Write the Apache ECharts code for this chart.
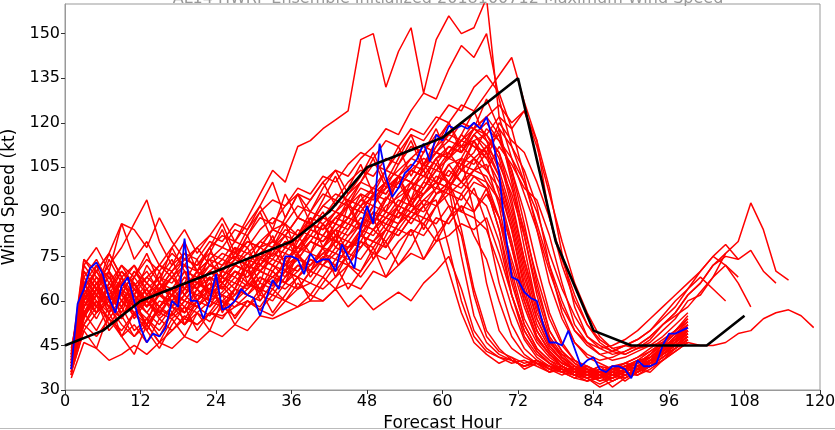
<!DOCTYPE html>
<html><head><meta charset="utf-8">
<script src="https://cdn.jsdelivr.net/npm/echarts@6/dist/echarts.min.js"></script>
<style>html,body{margin:0;padding:0;background:#fff}#c{width:835px;height:430px}</style>
</head><body><div id="c"></div>
<script>
const titleText = "AL14 HWRF Ensemble Initialized 2018100712 Maximum Wind Speed";
const xTicks = [0,12,24,36,48,60,72,84,96,108,120];
const yTicks = [30,45,60,75,90,105,120,135,150];

// ensemble hours (2-hourly)
const redHours = [1,3,5,7,9,11,13,15,17,19,21,23,25,27,29,31,33,35,37,39,41,43,45,47,49,51,53,55,57,59,61,63,65,67,69,71,73,75,77,79,81,83,85,87,89,91,93,95,97,99,101,103,105,107,109,111,113,115,117,119];

const c1 = [38,55,62,52,58,50,54,48,56,52, 56,53,58,55,60,57,55,60,58,62, 60,64,58,62,57,60,63,60,66,70, 75,64,50,44,41,40,38,40,37,38, 36,38,35,37,36,38,40,42,45,48];
const c2 = [40,62,58,64,55,60,52,57,55,60, 58,62,65,60,66,63,70,66,72,70, 75,72,78,80,76,84,82,88,92,94, 78,60,48,43,41,39,40,38,36,37, 35,36,34,36,38,37,40,43,46,50];
const c3 = [36,50,56,60,48,52,46,54,50,55, 52,56,54,60,58,62,60,66,64,70, 68,74,72,78,84,80,86,90,88,96, 98,75,55,46,42,40,38,39,37,36, 38,35,36,34,36,38,39,42,44,47];
const c4 = [42,58,66,60,63,58,60,55,62,58, 64,60,63,68,65,70,68,72,75,72, 78,82,80,86,84,90,88,94,96,100, 92,82,62,48,43,41,39,40,38,37, 36,37,35,37,38,40,41,44,46,49];
const c5 = [39,60,54,62,58,64,60,66,62,68, 64,70,66,72,70,75,72,78,76,82, 80,86,84,90,88,95,92,98,102,100, 106,108,90,66,50,44,41,39,38,36, 37,35,36,37,38,39,42,45,47,50];
const b1 = [37,65,70,62,66,60,64,58,62,66, 60,68,64,70,66,72,70,76,74,80, 78,84,82,88,86,92,95,98,96,102, 100,106,104,110,96,80,62,50,43,39, 37,37,35,34,36,38,40,43,47,50];
const b2 = [35,72,66,70,64,68,62,66,64,70, 68,72,70,74,72,78,75,80,78,84, 82,88,86,92,95,98,102,100,106,110, 108,112,114,116,110,94,74,58,47,41, 38,36,38,35,37,36,39,42,46,49];
const b3 = [41,55,60,50,55,48,52,46,50,54, 52,56,55,58,60,57,62,60,64,66, 64,68,72,70,76,74,80,84,82,88, 86,92,90,96,88,74,60,48,42,38, 36,34,35,33,35,37,38,41,44,47];
const b4 = [38,68,74,66,72,65,70,63,68,64, 70,67,72,75,72,78,80,78,84,82, 88,86,92,90,96,94,100,104,102,108, 112,110,116,112,106,96,82,64,50,43, 39,37,36,38,37,39,41,44,48,52];
const b5 = [40,52,58,54,50,56,52,58,55,60, 58,62,60,64,62,68,65,70,68,74, 72,78,76,82,80,86,84,90,94,92, 98,96,102,100,94,78,62,50,43,39, 37,36,34,35,36,38,40,42,45,48];
const b6 = [36,62,56,66,60,55,62,58,64,60, 66,63,68,66,72,70,74,72,78,76, 82,80,86,84,90,88,94,92,98,104, 102,108,106,112,116,104,86,66,50,43, 39,36,37,35,34,36,39,42,45,49];
const b7 = [43,58,64,70,62,58,54,60,58,56, 62,60,58,64,62,66,64,70,68,72, 76,74,80,78,84,88,86,92,90,96, 100,98,104,106,92,70,54,46,41,38, 35,36,34,36,35,37,40,44,47,51];
const b8 = [39,74,68,64,70,66,60,64,68,62, 66,70,68,72,76,74,78,82,80,86, 84,90,88,94,98,96,102,106,104,110, 114,112,118,114,110,98,84,68,54,45, 40,37,35,36,38,37,40,43,47,52];
const b9 = [34,46,44,40,42,45,42,46,44,48, 46,50,48,52,50,55,54,56,58,60, 60,64,66,64,70,68,72,76,74,80, 82,86,84,88,76,62,50,43,39,36, 35,34,31,33,35,37,39,42,45,48];
const b10 = [38,60,66,58,54,62,56,52,58,54, 60,58,62,60,64,68,66,70,74,72, 76,80,78,84,82,88,92,90,96,100, 98,104,108,112,102,86,68,54,45,40, 37,35,36,34,36,38,41,44,48,51];
const b11 = [41,66,60,56,64,60,66,62,58,64, 62,66,64,70,68,72,76,74,78,82, 80,84,88,86,92,90,96,100,98,104, 108,106,110,118,114,104,90,72,56,46, 40,37,36,37,35,37,40,42,46,50];
const b12 = [37,54,62,58,64,54,60,56,54,58, 56,60,58,62,66,64,68,66,70,74, 72,76,74,80,78,84,82,88,86,92, 96,94,100,98,88,72,58,47,42,38, 36,35,36,33,35,36,38,41,44,48];
const b13 = [40,60,66,72,78,86,94,80,72,76, 70,74,72,78,76,80,78,84,82,88, 86,90,94,92,98,96,102,100,106,104, 110,114,112,108,100,84,66,52,44,40, 37,36,35,37,36,38,41,44,48,52];
const b14 = [42,64,70,76,86,84,78,88,80,74, 78,72,76,74,80,78,84,86,82,90, 88,94,92,98,96,100,104,108,106,112, 116,120,118,122,116,102,82,62,48,42, 38,37,36,35,37,38,40,43,47,51];
const b15 = [35,70,64,58,62,56,60,54,58,62, 58,64,62,66,64,70,68,72,70,76, 74,80,78,82,88,86,92,90,96,100, 98,104,102,98,84,66,52,44,40,37, 35,34,36,35,37,39,42,46,50,54];
const b16 = [39,56,50,58,52,48,54,50,56,52, 58,55,60,58,62,60,66,64,68,66, 72,70,76,74,80,78,84,82,88,86, 92,90,88,84,72,58,47,41,38,36, 34,33,35,31,34,36,38,42,45,48];
const b17 = [44,66,72,68,62,70,64,68,66,72, 70,74,78,76,80,78,84,82,88,86, 92,90,96,100,98,104,102,108,112,110, 116,114,120,116,108,92,74,58,47,41, 37,38,36,38,39,41,44,47,50,54];
const b18 = [37,52,48,54,60,56,50,58,62,56, 60,64,58,62,66,64,62,68,72,70, 74,72,78,82,80,84,90,88,94,98, 96,100,104,102,94,78,60,48,42,39, 37,35,33,34,35,37,39,43,46,50];
const b19 = [42,74,70,76,68,72,66,62,68,72, 66,70,74,72,70,76,80,78,82,86, 84,88,92,96,94,100,98,104,102,108, 110,116,112,110,102,88,70,54,45,40, 36,35,37,36,38,40,43,46,49,53];
const b20 = [36,58,64,56,60,66,58,62,60,64, 68,62,66,70,68,74,72,70,76,80, 78,76,82,86,84,90,88,94,100,98, 104,100,96,92,80,62,50,43,39,37, 35,33,34,36,35,37,39,42,46,49];
const e1 = [35,66,58,70,54,62,50,58,64,52, 60,68,56,64,72,60,66,74,64,70, 78,68,76,84,74,82,90,86,92,84, 70,56,46,42,39,41,37,39,36,38, 35,37,34,36,33,36,38,41,44,47];
const e2 = [42,60,72,62,56,66,60,70,58,66, 74,62,70,78,66,74,82,72,80,88, 78,86,94,84,92,100,90,98,104,96, 100,84,64,50,44,40,38,40,37,35, 37,34,36,35,37,40,39,43,48,51];
const e3 = [38,54,64,56,68,58,52,64,56,62, 70,60,68,64,74,66,78,70,82,76, 86,80,92,84,96,90,102,94,106,100, 110,104,114,108,118,112,104,92,72,56, 46,41,39,37,39,41,43,46,50,53];
const e4 = [36,50,44,56,48,42,52,46,54,48, 56,50,60,52,58,64,56,62,68,60, 66,72,64,70,78,68,76,84,74,82, 88,92,82,74,60,48,42,39,36,38, 35,33,35,34,36,35,38,40,43,46];
const e5 = [41,70,64,76,68,62,72,66,78,70, 64,76,84,74,82,90,80,88,96,86, 94,102,92,100,108,98,106,114,104,112, 120,110,118,128,118,100,78,58,46,41, 38,36,38,37,39,38,41,45,49,52];
const e6 = [39,64,56,60,68,58,64,56,62,70, 60,66,58,64,72,62,70,66,76,68, 74,82,72,80,88,78,86,94,84,92, 100,90,98,86,66,52,44,40,38,36, 34,36,33,35,34,37,36,40,44,47];
const e7 = [40,72,78,70,86,74,80,72,78,84, 76,82,88,80,86,92,84,96,88,94, 100,92,98,106,96,104,112,102,110,118, 108,116,124,114,104,90,72,56,46,42, 40,38,36,38,37,39,42,46,50,55];
const e8 = [37,58,66,60,54,64,58,66,60,56, 64,58,66,62,70,64,72,68,76,70, 78,84,76,82,90,84,92,100,92,98, 106,100,108,104,112,106,98,94,82,66, 52,46,42,40,41,43,45,48,52,56];
const e9 = [38,52,60,54,48,56,50,44,52,58, 50,56,62,54,60,58,64,60,66,62, 68,64,72,68,74,80,72,78,86,80, 88,96,90,98,84,62,48,42,39,37, 36,34,32,34,36,35,37,40,43,46];
const e10 = [43,68,62,74,66,72,62,68,74,64, 70,78,68,74,82,72,78,86,76,84, 90,82,88,96,86,94,102,92,100,108, 98,106,114,104,98,84,64,50,43,39, 37,36,35,37,36,38,40,44,47,50];
const e11 = [37,62,70,64,58,68,76,66,72,80, 70,78,86,76,84,92,100,88,96,90, 98,104,96,102,110,100,108,116,106,114, 120,112,108,100,88,68,52,44,40,38, 36,35,34,36,35,37,40,43,46,50];
const e12 = [39,56,62,68,60,66,58,64,70,62, 68,74,66,72,78,70,76,82,74,80, 86,78,84,92,86,94,100,92,98,106, 100,108,116,110,120,114,110,100,88,72, 60,52,47,44,45,47,50,54,58,64, 70,75,72,68];
const a1 = [39,62,68,64,72,68,74,70,76,72, 78,82,80,86,84,90,94,92,98,96, 102,100,106,110,108,114,112,118,116,122, 120,126,124,130,136,142,127,114,88,74, 62,52,46,43,45,44,47,52,55,58, 63,68,72,66,58];
const a2 = [41,58,64,60,66,62,68,64,70,74, 72,76,74,80,78,84,88,86,92,90, 96,94,100,104,102,108,106,112,110,116, 114,120,118,122,126,120,124,112,96,80, 66,56,48,44,42,44,46,50,54,60, 62,68,76,80,93,84,70,67];
const a3 = [38,56,62,58,64,60,56,62,60,66, 64,68,66,72,70,76,74,80,78,84, 82,88,92,90,96,100,98,104,108,106, 112,110,116,120,114,108,100,90,76,64, 55,48,45,43,42,44,45,46,45,46, 45,45,46,49,50,54,56,57,55,51];
const a4 = [36,60,56,62,58,64,60,56,62,60, 66,64,70,68,74,72,78,76,82,86, 84,90,88,94,92,98,102,100,106,110, 108,114,118,116,122,118,124,114,98,76, 58,48,44,42,43,45,48,52,56,62, 66,72,75,74,77,70,66];
const h1 = [40,64,58,66,62,70,66,72,68,74, 72,78,82,80,88,96,104,100,112,114, 118,121,124,148,150,132,144,152,130,148, 156,150,152,162,122,108,96,84,70,58, 50,46,44,45,47,50,54,58,62,66, 70,75,79,74];
const h2 = [42,60,68,62,70,64,68,72,70,76, 74,80,78,84,82,88,86,92,96,94, 100,104,102,108,112,118,116,124,130,128, 138,146,142,150,128,112,100,86,72,60, 50,45,42,43,45,47,50,55,60,64, 68,64,60];
const h3 = [37,56,64,60,66,62,58,64,62,68, 66,72,70,76,74,80,84,82,88,86, 92,96,94,100,106,104,110,116,114,120, 126,124,132,136,130,118,102,84,66,54, 46,42,40,41,43,45,48,52,56,62, 66,72,76];

const ensemble = [c1,c2,c3,c4,c5,b1,b2,b3,b4,b5,b6,b7,b8,b9,b10,b11,b12,b13,b14,b15,b16,b17,b18,b19,b20,
  e1,e2,e3,e4,e5,e6,e7,e8,e9,e10,e11,e12,a1,a2,a3,a4,h1,h2,h3];

// control member (hourly)
const blueHours = [1,2,3,4,5,6,7,8,9,10,11,12,13,14,15,16,17,18,19,20,21,22,23,24,25,26,27,28,29,30,31,32,33,34,35,36,37,38,39,40,41,42,43,44,45,46,47,48,49,50,51,52,53,54,55,56,57,58,59,60,61,62,63,64,65,66,67,68,69,70,71,72,73,74,75,76,77,78,79,80,81,82,83,84,85,86,87,88,89,90,91,92,93,94,95,96,97,98,99];
const blueWind = [37,59,64,71,73,69,61,56,65,68, 60,51,46,49,48,51,60,58,81,60, 60,54,60,69,57,58,60,64,62,61, 55,61,67,64,75,75,74,69,76,73, 74,74,70,79,75,71,85,92,86,113, 102,95,98,103,105,108,113,107,116,114, 119,118,119,118,120,118,122,114,103,83, 68,67,63,61,60,52,46,46,45,50, 44,38,40,41,37,36,38,38,37,34, 40,38,38,39,45,49,49,50,51];

// best track
const bestHours = [0,6,12,18,24,30,36,42,48,54,60,66,72,78,84,90,96,102,108];
const bestWind = [45,50,60,65,70,75,80,90,105,110,115,125,135,80,50,45,45,45,55];

function pairs(hrs, vals){ return vals.map((v,i)=>[hrs[i], v]); }

const series = [];
ensemble.forEach(m => series.push({
  type:'line', data: pairs(redHours, m), symbol:'none', silent:true, z:2,
  lineStyle:{color:'#ff0000', width:1.5}
}));
series.push({type:'line', data: pairs(blueHours, blueWind), symbol:'none', silent:true, z:3,
  lineStyle:{color:'#0000ff', width:1.8}});
series.push({type:'line', data: pairs(bestHours, bestWind), symbol:'none', silent:true, z:4,
  lineStyle:{color:'#000000', width:2.6}});

const font = 'DejaVu Sans';
const chart = echarts.init(document.getElementById('c'), null, {renderer:'canvas'});
chart.setOption({
  animation:false,
  backgroundColor:'#fff',
  title:{text:titleText, left:443, textAlign:'center', top:-14, textStyle:{fontFamily:font, fontSize:16, fontWeight:'normal', color:'#999'}},
  grid:{left:65, right:15, top:4, bottom:40, outerBoundsMode:'none', containLabel:false, show:true, borderColor:'#999', borderWidth:1},
  xAxis:{type:'value', min:0, max:120, interval:12,
    name:'Forecast Hour', nameLocation:'middle', nameGap:21,
    nameTextStyle:{fontFamily:font, fontSize:17, color:'#000'},
    axisLine:{show:true, lineStyle:{color:'#999', width:1}},
    axisTick:{show:true, length:4, lineStyle:{color:'#333'}},
    axisLabel:{fontFamily:font, fontSize:16, color:'#000', margin:4, formatter:v=>xTicks.includes(v)?String(v):''},
    splitLine:{show:false}},
  yAxis:{type:'value', min:30, max:160,
    name:'Wind Speed (kt)', nameLocation:'middle', nameGap:40, nameRotate:90,
    nameTextStyle:{fontFamily:font, fontSize:17, color:'#000'},
    axisLine:{show:true, lineStyle:{color:'#999', width:1}},
    axisTick:{show:true, length:4, lineStyle:{color:'#333'}, customValues:yTicks},
    axisLabel:{fontFamily:font, fontSize:16, color:'#000', margin:5, customValues:yTicks},
    splitLine:{show:false}},
  graphic:[{type:'line', shape:{x1:0, y1:428.5, x2:835, y2:428.5}, style:{stroke:'#bbb', lineWidth:1}}],
  series: series
});
</script></body></html>
